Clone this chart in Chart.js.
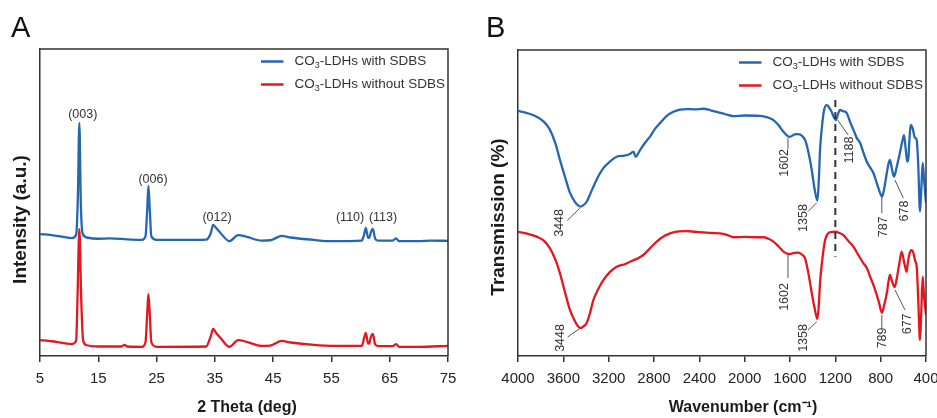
<!DOCTYPE html>
<html>
<head>
<meta charset="utf-8">
<script src="https://cdn.jsdelivr.net/npm/chart.js@4.4.1/dist/chart.umd.min.js"></script>
<style>
  html, body { margin: 0; padding: 0; background: #fff; overflow: hidden; width: 937px; height: 418px; }
  #wrapA { position: absolute; left: 0; top: 0; width: 470px; height: 418px; }
  #wrapB { position: absolute; left: 470px; top: 0; width: 490px; height: 418px; }
</style>
</head>
<body>
<div id="wrapA"><canvas id="xrd" width="470" height="418"></canvas></div>
<div id="wrapB"><canvas id="ftir" width="490" height="418"></canvas></div>
<script>
// series names
const seriesNames = ["CO₃-LDHs with SDBS", "CO₃-LDHs without SDBS"];

// panel A: XRD, [2theta, intensity a.u.]
const xrdTicks = [5, 15, 25, 35, 45, 55, 65, 75];
const xrdWith = [
  [5, 39.7], [7, 39.4], [9, 38.8], [10.5, 38.4], [11.2, 39.5], [11.5, 52], [11.75, 75.9], [12.0, 50], [12.3, 40],
  [13, 38.6], [15, 38.2], [17, 38.3], [20, 38.0], [22.5, 37.8], [23.1, 39], [23.4, 48], [23.6, 55.4], [23.85, 47],
  [24.1, 39], [25, 37.8], [30, 37.8], [33.5, 37.9], [34.3, 40], [34.7, 42.7], [35.3, 41.5], [36, 40], [37.5, 37.4],
  [39, 39.4], [40.5, 38.8], [43, 37.6], [44.5, 37.7], [46.5, 39.1], [48, 38.6], [52, 37.8], [55, 37.4], [60.2, 37.6],
  [60.6, 39.5], [60.9, 41.7], [61.3, 38.5], [61.5, 38.6], [61.8, 40.5], [62.1, 41.4], [62.5, 38.2], [63, 37.6],
  [65.5, 37.6], [66.1, 38.3], [66.6, 37.4], [70, 37.4], [72, 37.6], [75, 37.5]
];
const xrdWithout = [
  [5, 5.2], [7, 4.8], [9, 4.2], [10.5, 3.9], [11.2, 5], [11.45, 20], [11.75, 41.4], [12.05, 20], [12.4, 5], [13, 3.5],
  [15, 3.1], [19, 3.1], [19.5, 3.6], [20, 3.1], [22.5, 3.0], [23.1, 4.5], [23.4, 14], [23.6, 20.2], [23.85, 13],
  [24.1, 4.5], [25, 3.0], [33.5, 3.1], [34.3, 6.5], [34.7, 8.8], [35.3, 7.3], [36, 5.8], [37.5, 3.0], [39, 5.2],
  [40.5, 4.6], [43, 3.3], [44.5, 3.4], [46.5, 4.9], [48, 4.4], [52, 3.6], [55, 3.3], [60.2, 3.3], [60.6, 5.8],
  [60.9, 7.5], [61.3, 4], [61.5, 4.2], [61.8, 6.4], [62.1, 7.2], [62.5, 3.8], [63, 3.2], [65.5, 3.2], [66.1, 3.9],
  [66.6, 3.0], [70, 3.0], [75, 3.3]
];
// peak labels: [text, 2theta, intensity]
const xrdPeaks = [["(003)", 12.33, 78.6], ["(006)", 24.39, 57.4], ["(012)", 35.37, 45.0], ["(110)", 58.2, 45.0], ["(113)", 63.85, 45.0]];

// panel B: FTIR, [wavenumber, transmission a.u.]
const ftirTicks = [4000, 3600, 3200, 2800, 2400, 2000, 1600, 1200, 800, 400];
const ftirWith = [
  [4000, 80.1], [3920, 79.4], [3835, 78.2], [3770, 76.5], [3718, 73.9], [3670, 69.5], [3630, 64.1], [3585, 58.5],
  [3541, 53.3], [3495, 50.2], [3470, 49.2], [3448, 48.8], [3425, 49.2], [3394, 50.4], [3365, 52.8], [3335, 55.3], [3290, 58.8],
  [3247, 61.4], [3190, 63.5], [3129, 65.1], [3060, 65.5], [3012, 66.0], [2982, 66.8], [2962, 65.1], [2923, 67.3],
  [2880, 69.6], [2835, 71.7], [2790, 74.3], [2747, 76.1], [2690, 78.4], [2629, 79.8], [2570, 80.5], [2511, 80.7],
  [2440, 80.6], [2364, 80.8], [2300, 80.3], [2247, 79.8], [2170, 79.0], [2100, 78.4], [2000, 78.6], [1864, 78.5],
  [1800, 78.0], [1746, 77.1], [1700, 75.4], [1658, 73.3], [1602, 71.6], [1560, 72.4], [1526, 72.5], [1490, 71.8],
  [1467, 70.6], [1440, 67.0], [1408, 60.8], [1385, 55.0], [1358, 50.8], [1345, 58], [1335, 67.3], [1315, 76],
  [1299, 80.4], [1276, 82.0], [1255, 81.2], [1232, 79.7], [1210, 77.8], [1195, 77.1], [1175, 79.2], [1159, 80.4],
  [1130, 80.0], [1099, 79.4], [1070, 76.5], [1040, 73.9], [1010, 71.2], [981, 69.6], [950, 66.2], [922, 63.5],
  [895, 61.7], [864, 59.8], [830, 56.0], [800, 52.8], [787, 52.1], [765, 55.5], [746, 59.8], [730, 63.0],
  [718, 64.1], [700, 61.0], [682, 58.6], [660, 61.5], [628, 66.8], [610, 70.0], [594, 72.2], [580, 68],
  [566, 63.5], [556, 64.5], [545, 71.5], [535, 75.5], [515, 74], [500, 71.5], [482, 70.6], [468, 62],
  [453, 47.2], [442, 54], [429, 63.1], [418, 58], [400, 50.0]
];
const ftirWithout = [
  [4000, 40.6], [3920, 40.0], [3835, 39.0], [3770, 37.6], [3718, 35.2], [3670, 31.5], [3630, 27.1], [3585, 20.8],
  [3541, 15.0], [3495, 11.2], [3470, 9.7], [3448, 9.1], [3425, 9.6], [3394, 10.8], [3365, 14.0], [3335, 18.3], [3290, 22.0],
  [3247, 24.8], [3190, 27.4], [3129, 29.2], [3060, 30.0], [3012, 30.8], [2950, 31.8], [2894, 33.0], [2835, 35.2],
  [2776, 37.4], [2710, 39.2], [2658, 40.1], [2580, 40.7], [2511, 40.8], [2440, 40.6], [2364, 40.4], [2290, 40.2],
  [2217, 40.1], [2150, 39.5], [2100, 38.8], [2000, 38.9], [1900, 38.8], [1835, 38.8], [1790, 38.3], [1746, 37.4],
  [1700, 35.8], [1658, 34.1], [1602, 33.3], [1560, 33.7], [1526, 33.8], [1490, 33.0], [1467, 31.9], [1440, 27.5],
  [1408, 20.6], [1385, 16], [1358, 12.1], [1345, 17], [1335, 23.9], [1315, 31.5], [1290, 37.9], [1265, 40.0],
  [1246, 40.5], [1200, 40.6], [1165, 40.2], [1129, 39.5], [1090, 37.8], [1040, 35.7], [1000, 33.2], [952, 30.3],
  [920, 28.6], [893, 25.9], [870, 23.8], [849, 21.6], [815, 17.5], [789, 14.1], [768, 16.8], [746, 20.5],
  [730, 24.5], [718, 26.5], [700, 24.5], [677, 22.5], [650, 27], [630, 31.5], [615, 34.1], [595, 31],
  [580, 28.5], [571, 27.5], [560, 30.5], [545, 33.5], [527, 34.6], [510, 33.5], [495, 31], [482, 29.2],
  [468, 18], [453, 5.2], [442, 14], [429, 25.9], [418, 20], [400, 13.4]
];
// band labels: [text, wavenumber, value] and leader lines [w1, v1, w2, v2]
const ftirBands = [
  ["3448", 3629, 43.5], ["3448", 3624, 5.9], ["1602", 1644, 63.1], ["1358", 1483, 45.1], ["1188", 1077, 67.3],
  ["787", 777, 42.2], ["678", 585, 47.4], ["1602", 1644, 19.3], ["1358", 1483, 5.9], ["789", 786, 5.9], ["677", 565, 10.5]
];
const ftirLeaders = [
  [3565, 44.3, 3455, 48.3], [3562, 6.2, 3455, 9.0], [1618, 71.2, 1618, 67.6], [1441, 47.2, 1364, 50.1],
  [1179, 77.1, 1086, 72.2], [790, 52, 790, 46.7], [674, 57.5, 600, 51.6], [1618, 33.0, 1618, 25.5],
  [1441, 8.5, 1364, 11.2], [790, 13.4, 790, 9.2], [674, 21.6, 585, 15.0]
];
const ftirMarker = [1200, 83.7, 32.4];

const fam = '"Liberation Sans", Arial, sans-serif';
const blue = "#2466b4";
const red = "#e2171f";
const axisColor = "#333";
Chart.defaults.font.family = fam;

const toXY = arr => arr.map(p => ({ x: p[0], y: p[1] }));

// letter, axis titles, legend, labels, top/right frame
const panelDecor = {
  id: "panelDecor",
  afterDatasetsDraw(chart, args, opts) {
    const { ctx, chartArea: a } = chart;
    const sx = chart.scales.x, sy = chart.scales.y;
    ctx.save();

    ctx.strokeStyle = axisColor;
    ctx.lineWidth = 1.5;
    ctx.beginPath();
    ctx.moveTo(a.left, a.top);
    ctx.lineTo(a.right, a.top);
    ctx.lineTo(a.right, a.bottom);
    ctx.stroke();

    if (opts.marker) {
      const m = opts.marker;
      ctx.setLineDash([7, 5]);
      ctx.lineWidth = 2;
      ctx.strokeStyle = "#333";
      ctx.beginPath();
      ctx.moveTo(sx.getPixelForValue(m[0]), sy.getPixelForValue(m[1]));
      ctx.lineTo(sx.getPixelForValue(m[0]), sy.getPixelForValue(m[2]));
      ctx.stroke();
      ctx.setLineDash([]);
    }

    ctx.strokeStyle = "#555";
    ctx.lineWidth = 1;
    (opts.leaders || []).forEach(l => {
      ctx.beginPath();
      ctx.moveTo(sx.getPixelForValue(l[0]), sy.getPixelForValue(l[1]));
      ctx.lineTo(sx.getPixelForValue(l[2]), sy.getPixelForValue(l[3]));
      ctx.stroke();
    });

    ctx.fillStyle = "#333";
    ctx.font = "12.5px " + fam;
    ctx.textAlign = "center";
    ctx.textBaseline = "middle";
    (opts.labels || []).forEach(l => {
      const px = sx.getPixelForValue(l[1]), py = sy.getPixelForValue(l[2]);
      ctx.save();
      ctx.translate(px, py);
      if (opts.rotate) ctx.rotate(-Math.PI / 2);
      ctx.fillText(l[0], 0, 0);
      ctx.restore();
    });

    // axis titles
    ctx.fillStyle = "#1a1a1a";
    ctx.font = "bold 16px " + fam;
    ctx.fillText(opts.xTitle, (a.left + a.right) / 2 + opts.xShift, 408);
    ctx.save();
    ctx.translate(a.left - 19.7, (a.top + a.bottom) / 2 + opts.yShift);
    ctx.rotate(-Math.PI / 2);
    ctx.font = "bold 19px " + fam;
    ctx.fillText(opts.yTitle, 0, 0);
    ctx.restore();

    // legend
    ctx.textAlign = "left";
    chart.data.datasets.forEach((ds, i) => {
      const y = a.top + 12.5 + i * 23;
      ctx.strokeStyle = ds.borderColor;
      ctx.lineWidth = 2.5;
      ctx.beginPath();
      ctx.moveTo(a.right - 187, y);
      ctx.lineTo(a.right - 164.5, y);
      ctx.stroke();
      const parts = ds.label.split("₃");
      let x = a.right - 153.5;
      ctx.fillStyle = "#333";
      ctx.font = "13.5px " + fam;
      ctx.fillText(parts[0], x, y);
      x += ctx.measureText(parts[0]).width;
      ctx.font = "9px " + fam;
      ctx.fillText("3", x, y + 4);
      x += ctx.measureText("3").width;
      ctx.font = "13.5px " + fam;
      ctx.fillText(parts[1], x, y);
    });

    ctx.fillStyle = "#111";
    ctx.font = "29px " + fam;
    ctx.textBaseline = "alphabetic";
    ctx.fillText(opts.letter, opts.letterX, 37);
    ctx.restore();
  }
};

function makeChart(id, cfg) {
  return new Chart(document.getElementById(id), {
    type: "line",
    data: {
      datasets: [
        { label: seriesNames[0], data: toXY(cfg.s1), borderColor: blue },
        { label: seriesNames[1], data: toXY(cfg.s2), borderColor: red }
      ]
    },
    options: {
      responsive: false,
      animation: false,
      layout: { padding: cfg.padding },
      elements: {
        point: { radius: 0 },
        line: { borderWidth: 2.3, cubicInterpolationMode: "monotone", fill: false }
      },
      plugins: {
        legend: { display: false },
        tooltip: { enabled: false },
        panelDecor: cfg.decor
      },
      scales: {
        x: {
          type: "linear",
          min: cfg.min,
          max: cfg.max,
          reverse: cfg.reverse,
          afterBuildTicks: s => { s.ticks = cfg.ticks.map(v => ({ value: v })); },
          ticks: { font: { size: 15 }, color: "#222", padding: 8, maxRotation: 0, autoSkip: false, callback: v => String(v) },
          grid: { display: true, drawOnChartArea: false, drawTicks: true, tickLength: 6, color: axisColor, lineWidth: 1.5 },
          border: { display: true, color: axisColor, width: 1.5 },
          title: { display: false }
        },
        y: {
          min: 0,
          max: 100,
          ticks: { display: false },
          grid: { display: false, drawTicks: false },
          border: { display: true, color: axisColor, width: 1.5 },
          title: { display: false }
        }
      }
    },
    plugins: [panelDecor]
  });
}

makeChart("xrd", {
  s1: xrdWith, s2: xrdWithout, min: 5, max: 75, reverse: false, ticks: xrdTicks,
  padding: { top: 49, right: 22, left: 40, bottom: 22 },
  decor: { letter: "A", letterX: 11, labels: xrdPeaks, rotate: false,
    xTitle: "2 Theta (deg)", yTitle: "Intensity (a.u.)", xShift: 3, yShift: 17 }
});

makeChart("ftir", {
  s1: ftirWith, s2: ftirWithout, min: 400, max: 4000, reverse: true, ticks: ftirTicks,
  padding: { top: 50, right: 34, left: 48, bottom: 22 },
  decor: { letter: "B", letterX: 16, labels: ftirBands, leaders: ftirLeaders, marker: ftirMarker, rotate: true,
    xTitle: "Wavenumber (cm⁻¹)", yTitle: "Transmission (%)", xShift: 21, yShift: 14 }
});
</script>
</body>
</html>
